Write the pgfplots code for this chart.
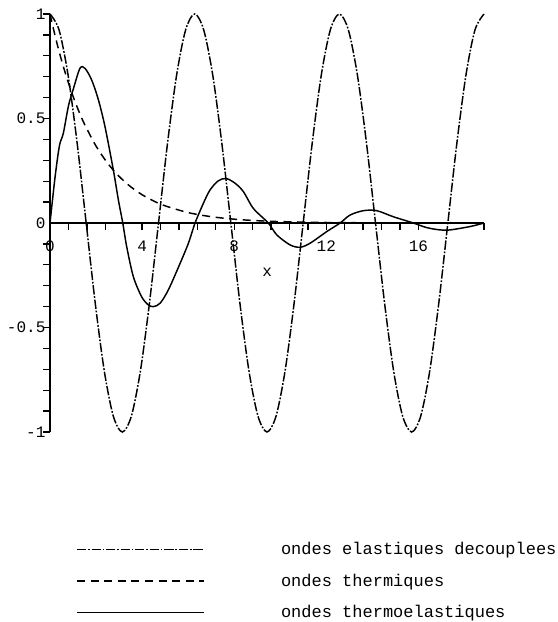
\documentclass[border=0pt]{standalone}
\usepackage{pgfplots}
\pgfplotsset{compat=1.18}
\usepackage{fontspec}
\setmainfont{Liberation Mono}

\begin{document}
\begin{tikzpicture}
\begin{axis}[
    scale only axis, width=325.5pt, height=313.5pt,
    xmin=0, xmax=18.85, ymin=-1, ymax=1,
    axis lines=middle, axis line style={-, line width=1pt},
    clip=false,
    xtick={0,4,8,12,16}, xticklabels={0,4,8,12,16},
    minor x tick num=4,
    extra x ticks={18.85}, extra x tick labels={},
    ytick={-1,-0.5,0,0.5,1}, yticklabels={-1,-0.5,0,0.5,1},
    minor y tick num=4,
    tick align=outside,
    major tick length=5.25pt, minor tick length=5.25pt,
    every tick/.style={line width=1pt, black},
    tick label style={font=\fontsize{12}{14}\selectfont},
    xticklabel style={anchor=north, inner sep=0pt, yshift=-8pt},
    yticklabel style={anchor=east, inner sep=0pt, xshift=2pt},
    legend image code/.code={\draw[#1] (0pt,0pt) -- (95.25pt,0pt); \path[draw=none] (0pt,0pt) -- (153pt,0pt);},
    legend style={at={(axis cs:1.13,-1.526)}, anchor=north west, draw=none, fill=none,
        inner sep=0pt, row sep=13pt, nodes={inner sep=0pt},
        cells={anchor=west}, font=\fontsize{12.75}{15}\selectfont},
]
% ondes elastiques decouplees
\addplot[black, line width=1.1pt, smooth, dash pattern=on 7pt off 1.3pt on 1.3pt off 1.3pt] coordinates {
(0,1) (0.3927,0.9239) (0.7854,0.7071) (1.1781,0.3827) (1.5708,0) (1.9635,-0.3827) (2.3562,-0.7071) (2.7489,-0.9239) (3.1416,-1) (3.5343,-0.9239) (3.9270,-0.7071) (4.3197,-0.3827) (4.7124,0) (5.1051,0.3827) (5.4978,0.7071) (5.8905,0.9239) (6.2832,1) (6.6759,0.9239) (7.0686,0.7071) (7.4613,0.3827) (7.8540,0) (8.2467,-0.3827) (8.6394,-0.7071) (9.0321,-0.9239) (9.4248,-1) (9.8175,-0.9239) (10.2102,-0.7071) (10.6029,-0.3827) (10.9956,0) (11.3883,0.3827) (11.7810,0.7071) (12.1737,0.9239) (12.5664,1) (12.9591,0.9239) (13.3518,0.7071) (13.7445,0.3827) (14.1372,0) (14.5299,-0.3827) (14.9226,-0.7071) (15.3153,-0.9239) (15.7080,-1) (16.1007,-0.9239) (16.4934,-0.7071) (16.8861,-0.3827) (17.2788,0) (17.6715,0.3827) (18.0642,0.7071) (18.4569,0.9239) (18.8496,1)
};
\addlegendentry{ondes elastiques decouplees}
% ondes thermiques
\addplot[black, line width=1.1pt, smooth, dash pattern=on 6pt off 4.2pt] coordinates {
(0,1) (0.25,0.8825) (0.5,0.7788) (0.75,0.6873) (1,0.6065) (1.25,0.5353) (1.5,0.4724) (2,0.3679) (2.5,0.2865) (3,0.2231) (3.5,0.1738) (4,0.1353) (4.5,0.1054) (5,0.0821) (6,0.0498) (7,0.0302) (8,0.0183) (9,0.0111) (10,0.0067) (12,0.0025) (14,0.0009) (16,0.0003) (18.85,0.0001)
};
\addlegendentry{ondes thermiques}
% ondes thermoelastiques
\addplot[black, line width=1.1pt, smooth] coordinates {
(0,0) (0.22,0.22) (0.41,0.37) (0.58,0.43) (0.8,0.56) (1.01,0.64) (1.3,0.74) (1.52,0.74) (1.81,0.684) (2.1,0.59) (2.39,0.46) (2.75,0.254) (2.97,0.11) (3.16,0) (3.33,-0.113) (3.62,-0.257) (3.98,-0.353) (4.27,-0.392) (4.49,-0.40) (4.78,-0.384) (5.14,-0.32) (5.65,-0.193) (6.01,-0.097) (6.3,0) (6.66,0.094) (6.95,0.158) (7.31,0.202) (7.65,0.213) (8.04,0.19) (8.4,0.15) (8.83,0.07) (9.48,0) (9.85,-0.057) (10.43,-0.105) (10.86,-0.116) (11.29,-0.097) (12.02,-0.041) (12.6,0) (13.03,0.038) (13.61,0.059) (14.19,0.059) (14.91,0.03) (15.78,0) (16.36,-0.022) (16.94,-0.033) (17.38,-0.033) (18.24,-0.017) (18.85,0)
};
\addlegendentry{ondes thermoelastiques}
% origin labels (hidden by axis lines=middle)
\node[font=\fontsize{12}{14}\selectfont, anchor=north, inner sep=0pt, yshift=-13.25pt] at (axis cs:0,0) {0};
\node[font=\fontsize{12}{14}\selectfont, anchor=east, inner sep=0pt, xshift=-3.25pt] at (axis cs:0,0) {0};
\node[font=\fontsize{12}{14}\selectfont] at (axis cs:9.43,-0.234) {x};
\coordinate (bl) at (axis cs:-2.172,-1.909);
\coordinate (tr) at (axis cs:22.02,1.067);
\end{axis}
\pgfresetboundingbox
\path[use as bounding box] (bl) rectangle (tr);
\end{tikzpicture}
\end{document}
